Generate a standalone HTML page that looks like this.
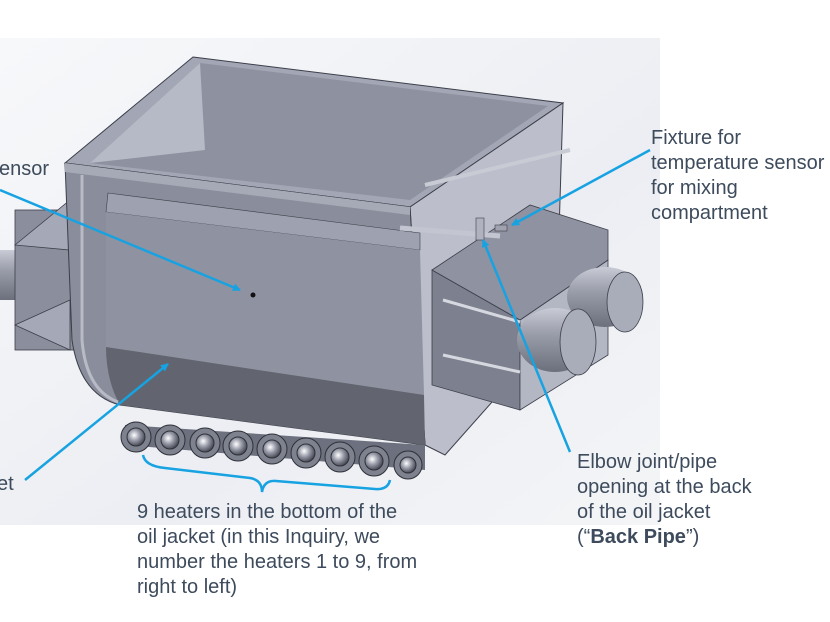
<!DOCTYPE html>
<html><head><style>
body{margin:0;background:#fff;}
svg{display:block;}
text{font-family:"Liberation Sans",sans-serif;font-size:20px;fill:#3d4b5c;}
</style></head><body>
<svg width="830" height="622" viewBox="0 0 830 622" xmlns="http://www.w3.org/2000/svg">
<defs>
<linearGradient id="bg" x1="0" y1="0" x2="1" y2="1">
<stop offset="0" stop-color="#f7f8fa"/><stop offset="0.6" stop-color="#eceef3"/><stop offset="1" stop-color="#f4f5f7"/>
</linearGradient>
<radialGradient id="ball" cx="0.4" cy="0.4" r="0.6">
<stop offset="0" stop-color="#ffffff"/><stop offset="0.5" stop-color="#9a9daa"/><stop offset="1" stop-color="#4a4d58"/>
</radialGradient>
<linearGradient id="cyl" x1="0" y1="0" x2="0" y2="1">
<stop offset="0" stop-color="#c9cbd6"/><stop offset="0.4" stop-color="#9a9daa"/><stop offset="1" stop-color="#6c6f7c"/>
</linearGradient>
<marker id="ah" markerWidth="8" markerHeight="8" refX="7" refY="4" orient="auto" markerUnits="userSpaceOnUse">
<path d="M0,0 L8,4 L0,8 z" fill="#17a2e2"/></marker>
</defs>
<rect x="0" y="38" width="660" height="487" fill="url(#bg)"/>
<rect x="0" y="250" width="40" height="50" fill="url(#cyl)"/>
<rect x="15" y="210" width="65" height="140" fill="#8b8e9c" stroke="#3c3f4a" stroke-width="0.8"/>
<path d="M15,245 L70,200 L70,250 Z M15,325 L70,300 L70,350 Z" fill="#a5a8b6" stroke="#3c3f4a" stroke-width="0.8"/>
<path d="M193,57 L563,103 L410,207 L65,163 Z" fill="#a3a6b4" stroke="#3c3f4a" stroke-width="1"/>
<path d="M200,63 L548,106 L410,200 L90,163 Z" fill="#8e919f"/>
<path d="M200,63 L205,150 L90,163 Z" fill="#b6b9c6"/>
<path d="M410,207 L563,103 L556,330 L445,455 L425,445 Z" fill="#bcbfcb" stroke="#3c3f4a" stroke-width="1"/>
<path d="M432,270 L520,320 L520,410 L432,385 Z" fill="#7d808e" stroke="#3c3f4a" stroke-width="0.8"/>
<path d="M520,320 L608,260 L608,355 L520,410 Z" fill="#b3b6c3" stroke="#3c3f4a" stroke-width="0.8"/>
<path d="M432,270 L530,205 L608,230 L608,260 L520,320 Z" fill="#8f92a0" stroke="#3c3f4a" stroke-width="0.8"/>
<path d="M443,300 L520,322 M443,355 L520,372" stroke="#d6d8e0" stroke-width="3"/>
<ellipse cx="605" cy="297" rx="38" ry="30" fill="url(#cyl)"/>
<ellipse cx="625" cy="302" rx="18" ry="30" fill="#a9acb9" stroke="#3c3f4a" stroke-width="0.8"/>
<ellipse cx="555" cy="340" rx="38" ry="32" fill="url(#cyl)"/>
<ellipse cx="578" cy="342" rx="18" ry="33" fill="#a9acb9" stroke="#3c3f4a" stroke-width="0.8"/>
<path d="M65,163 L410,207 L425,445 L120,405 Q80,395 72,340 Z" fill="#8a8d9b" stroke="#3c3f4a" stroke-width="1"/>
<path d="M65,163 L410,207 L410,215 L65,172 Z" fill="#a6a9b6"/>
<path d="M108,193 L420,233 L420,250 L106,212 Z" fill="#9ea1af" stroke="#3c3f4a" stroke-width="0.6"/>
<path d="M106,212 L420,250 L424,395 L106,347 Z" fill="#8f92a0"/>
<path d="M106,347 L424,395 L425,445 L120,405 Q106,380 106,347 Z" fill="#62656f"/>
<path d="M82,175 L82,340 Q86,390 118,402" stroke="#b8bbc6" stroke-width="3" fill="none"/>
<circle cx="253" cy="295" r="2.5" fill="#111"/>
<path d="M400,228 L500,236" stroke="#c3c6d1" stroke-width="5"/>
<rect x="476" y="218" width="8" height="22" fill="#b0b3bf" stroke="#3c3f4a" stroke-width="0.6"/>
<rect x="495" y="225" width="12" height="6" fill="#a0a3af" stroke="#3c3f4a" stroke-width="0.6"/>
<path d="M425,185 L570,150" stroke="#c8cad4" stroke-width="4"/>
<path d="M125,425 L425,445 L425,470 L125,445 Z" fill="#6d707e"/>
<g stroke="#2e3038" stroke-width="1">
<circle cx="136" cy="437" r="15" fill="#7e818e"/><circle cx="136" cy="437" r="9" fill="url(#ball)"/>
<circle cx="170" cy="440" r="15" fill="#7e818e"/><circle cx="170" cy="440" r="9" fill="url(#ball)"/>
<circle cx="205" cy="443" r="15" fill="#7e818e"/><circle cx="205" cy="443" r="9" fill="url(#ball)"/>
<circle cx="238" cy="446" r="15" fill="#7e818e"/><circle cx="238" cy="446" r="9" fill="url(#ball)"/>
<circle cx="272" cy="449" r="15" fill="#7e818e"/><circle cx="272" cy="449" r="9" fill="url(#ball)"/>
<circle cx="306" cy="453" r="15" fill="#7e818e"/><circle cx="306" cy="453" r="9" fill="url(#ball)"/>
<circle cx="340" cy="457" r="15" fill="#7e818e"/><circle cx="340" cy="457" r="9" fill="url(#ball)"/>
<circle cx="374" cy="461" r="15" fill="#7e818e"/><circle cx="374" cy="461" r="9" fill="url(#ball)"/>
<circle cx="408" cy="465" r="14" fill="#7e818e"/><circle cx="408" cy="465" r="8" fill="url(#ball)"/>
</g>
<g stroke="#17a2e2" stroke-width="2.5" fill="none">
<line x1="0" y1="190" x2="240" y2="290" marker-end="url(#ah)"/>
<line x1="25" y1="480" x2="168" y2="364" marker-end="url(#ah)"/>
<line x1="650" y1="150" x2="512" y2="225" marker-end="url(#ah)"/>
<line x1="570" y1="452" x2="483" y2="240" marker-end="url(#ah)"/>
<path d="M143,455 Q145,466 165,468 L250,478 Q262,480 262,492 Q264,480 276,481 L375,489 Q388,490 390,480"/>
</g>
<text x="-11" y="175">sensor</text>
<text x="-13" y="490">ket</text>
<text x="651" y="144">Fixture for</text>
<text x="651" y="169">temperature sensor</text>
<text x="651" y="194">for mixing</text>
<text x="651" y="219">compartment</text>
<text x="577" y="468">Elbow joint/pipe</text>
<text x="577" y="493">opening at the back</text>
<text x="577" y="518">of the oil jacket</text>
<text x="577" y="543">(“<tspan font-weight="bold">Back Pipe</tspan>”)</text>
<text x="137" y="518">9 heaters in the bottom of the</text>
<text x="137" y="543">oil jacket (in this Inquiry, we</text>
<text x="137" y="568">number the heaters 1 to 9, from</text>
<text x="137" y="593">right to left)</text>
</svg>
</body></html>
